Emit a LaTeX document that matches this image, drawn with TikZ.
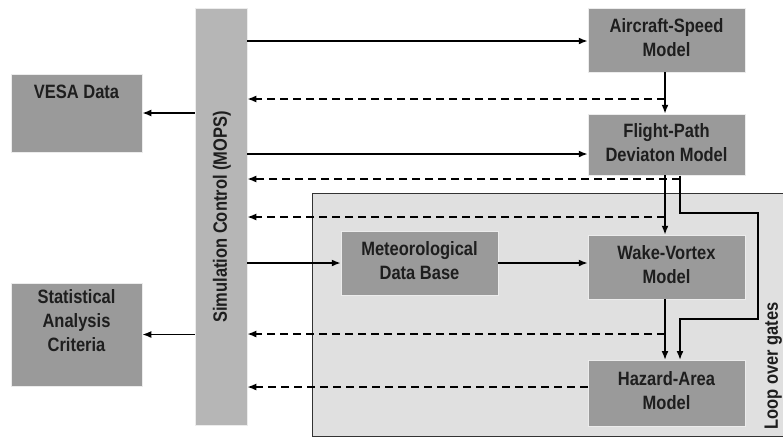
\documentclass[tikz,border=0pt]{standalone}
\usepackage{fontspec}
\usepackage{graphicx}
\setmainfont{Liberation Sans}
\usetikzlibrary{arrows.meta}
\definecolor{boxgray}{RGB}{154,154,154}
\definecolor{bargray}{RGB}{182,182,182}
\definecolor{loopgray}{RGB}{224,224,224}
\definecolor{txt}{RGB}{30,30,30}
\newcommand{\tx}[1]{\scalebox{1}[1.17]{\begin{tabular}{@{}c@{}}#1\end{tabular}}}
\begin{document}
\begin{tikzpicture}[x=1pt,y=-1pt,
  box/.style={draw=white!85!gray, line width=0.5pt, fill=boxgray, inner sep=0pt, align=center,
    font=\fontsize{16.5}{20.5}\selectfont\bfseries, text=txt},
  lbl/.style={align=center, font=\fontsize{16.5}{20.5}\selectfont\bfseries, text=txt, inner sep=0pt},
  arr/.style={line width=1.7pt, -{Latex[length=9pt,width=7pt]}},
  darr/.style={line width=1.7pt, dash pattern=on 8pt off 5pt, -{Latex[length=9pt,width=7pt]}}]
\useasboundingbox (0,0) rectangle (783,437);
\fill[white] (0,0) rectangle (783,437);
% loop region
\draw[fill=loopgray, line width=1pt, draw=black!80] (312,193) rectangle (790,436);
\node[lbl, rotate=90, anchor=base] (loop) at (778,366) {\tx{Loop over gates}};
% bar
\node[box, fill=bargray, minimum width=52pt, minimum height=417pt] (bar) at (221,216.5) {};
\node[lbl, rotate=90] (bartext) at (222,217) {\tx{Simulation Control (MOPS)}};
% boxes
\node[box, minimum width=131pt, minimum height=78pt] (vesa) at (76.5,113) {};
\node[lbl, anchor=north] (vesatext) at (76.5,82) {\tx{VESA Data}};
\node[box, minimum width=131pt, minimum height=103pt] (stat) at (76.5,334.5) {};
\node[lbl] (stattext) at (76.5,323) {\tx{Statistical\\Analysis\\Criteria}};
\node[box, minimum width=157pt, minimum height=64pt] (air) at (666.5,40) {\tx{Aircraft-Speed\\Model}};
\node[box, minimum width=157pt, minimum height=61pt] (flight) at (666.5,144.5) {\tx{Flight-Path\\Deviaton Model}};
\node[box, minimum width=157pt, minimum height=64pt] (met) at (419.5,263) {\tx{Meteorological\\Data Base}};
\node[box, minimum width=157pt, minimum height=64pt] (wake) at (666.5,267) {\tx{Wake-Vortex\\Model}};
\node[box, minimum width=157pt, minimum height=66pt] (haz) at (666.5,393) {\tx{Hazard-Area\\Model}};
% coordinates
\coordinate (c1) at (0,41);
\coordinate (d1) at (665,99);
\coordinate (c2) at (0,154);
\coordinate (d2) at (680,179);
\coordinate (d3) at (665,217);
\coordinate (d4) at (665,334);
\coordinate (c3) at (0,387);
\coordinate (ftop) at (665,175);
\coordinate (f2) at (680,175.5);
\coordinate (k1) at (680,213);
\coordinate (k2) at (758,213);
\coordinate (k3) at (758,319);
\coordinate (k4) at (680,319);
\coordinate (h1) at (665,360);
\coordinate (h2) at (680,360);
\coordinate (w1) at (665,299);
% connectors
\draw[arr] (bar.east |- c1) -- (air.west |- c1);
\draw[darr] (d1) -- (bar.east |- d1);
\draw[arr] (air.south -| d1) -- (flight.north -| d1);
\draw[arr] (bar.east |- c2) -- (flight.west |- c2);
\draw[darr] (d2) -- (bar.east |- d2);
\draw[darr] (d3) -- (bar.east |- d3);
\draw[arr] (ftop) -- (wake.north -| ftop);
\draw[arr] (f2) -- (k1) -- (k2) -- (k3) -- (k4) -- (h2);
\draw[arr] (bar.east |- met.west) -- (met.west);
\draw[arr] (met.east) -- (wake.west |- met.east);
\draw[arr] (w1) -- (h1);
\draw[darr] (d4) -- (bar.east |- d4);
\draw[darr] (haz.west |- c3) -- (bar.east |- c3);
\draw[arr] (bar.west |- vesa.east) -- (vesa.east);
\draw[arr] (bar.west |- stat.east) -- (stat.east);
\end{tikzpicture}
\end{document}
